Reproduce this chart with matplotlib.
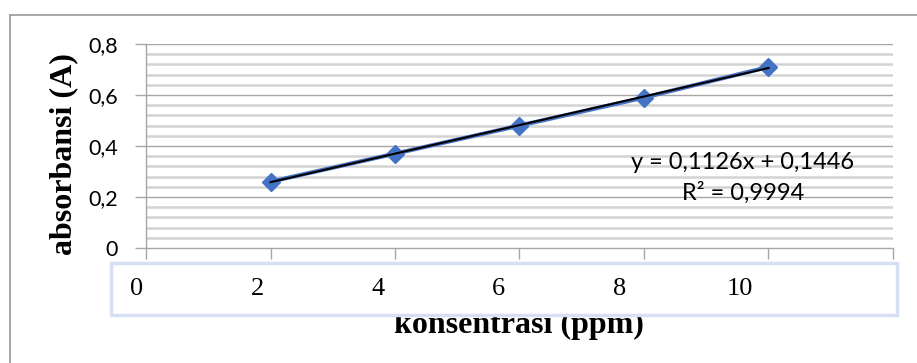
import matplotlib
matplotlib.use('Agg')
import matplotlib.pyplot as plt
import matplotlib.patches as patches
import numpy as np

# data
konsentrasi = [2, 4, 6, 8, 10]
absorbansi = [0.26, 0.37, 0.48, 0.59, 0.71]
box_labels = ['0', '2', '4', '6', '8', '10']
eq_text = 'y = 0,1126x + 0,1446'
r2_text = 'R² = 0,9994'

W, H = 917, 363
fig = plt.figure(figsize=(W / 100, H / 100), dpi=100)

# outer frame (top + left only visible)
fig.add_artist(plt.Line2D([9.5 / W, 1.0], [1 - 15 / H, 1 - 15 / H], color='#a0a0a0', lw=1.3))
fig.add_artist(plt.Line2D([9.5 / W, 9.5 / W], [0, 1 - 15 / H], color='#a0a0a0', lw=1.3))

ax = fig.add_axes([146 / W, 1 - 248 / H, (893 - 146) / W, (248 - 44) / H])
ax.set_xlim(0, 12)
ax.set_ylim(0, 0.8)

# gridlines
for v in np.arange(0.04, 0.8, 0.04):
    if abs(v / 0.2 - round(v / 0.2)) > 1e-6:
        ax.axhline(v, color='#d3d3d3', lw=1.8, zorder=0)
for v in [0.2, 0.4, 0.6, 0.8]:
    ax.axhline(v, color='#a6a6a6', lw=1.0, zorder=0)

# series + trendline
ax.plot(konsentrasi, absorbansi, color='#4472c4', lw=3, marker='D', ms=9,
        markerfacecolor='#4472c4', markeredgecolor='#4472c4', zorder=3)
k, b = np.polyfit(konsentrasi, absorbansi, 1)
xt = np.array([konsentrasi[0], konsentrasi[-1]])
ax.plot(xt, k * xt + b, color='black', lw=1.5, zorder=4)

for s in ['top', 'right']:
    ax.spines[s].set_visible(False)
for s in ['left', 'bottom']:
    ax.spines[s].set_color('#a6a6a6')
    ax.spines[s].set_linewidth(1.0)

ax.set_yticks([0, 0.2, 0.4, 0.6, 0.8])
ax.set_yticklabels(['0', '0,2', '0,4', '0,6', '0,8'], fontfamily='Lato', fontsize=15.5)
ax.set_xticks(np.arange(0, 13, 2))
ax.set_xticklabels([])
ax.tick_params(axis='both', direction='out', length=8, color='#a6a6a6', width=1.0)
ax.tick_params(axis='y', pad=12)

ax.text(743 / W, 1 - 162 / H, eq_text, transform=fig.transFigure, ha='center', va='center',
        fontfamily='Lato', fontsize=17)
ax.text(743 / W, 1 - 193 / H, r2_text, transform=fig.transFigure, ha='center', va='center',
        fontfamily='Lato', fontsize=17)

# axis titles
fig.text(64 / W, 1 - 154 / H, 'absorbansi (A)', rotation=90, ha='center', va='center',
         fontfamily='Liberation Serif', fontweight='bold', fontsize=23)
fig.text(519 / W, 1 - 333 / H, 'konsentrasi (ppm)', ha='center', va='baseline',
         fontfamily='Liberation Serif', fontweight='bold', fontsize=23)

# pasted label box over the x axis labels
box = patches.Rectangle((111 / W, 1 - 315 / H), (897 - 111) / W, (315 - 263) / H,
                        transform=fig.transFigure, facecolor='white', edgecolor='#d6e0f2',
                        lw=2.5, zorder=10)
fig.add_artist(box)
for i, lab in enumerate(box_labels):
    fig.text((137 + i * 120.6) / W, 1 - 289 / H, lab, ha='center', va='center',
             fontfamily='Liberation Serif', fontsize=19, zorder=11)

fig.savefig('out.png', dpi=100)
